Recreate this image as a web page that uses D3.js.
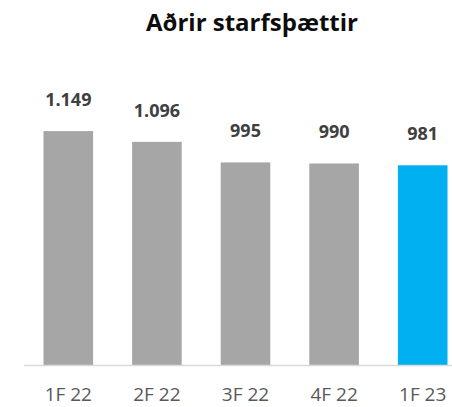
<!DOCTYPE html>
<meta charset="utf-8">
<style>
  body { margin: 0; background: #fff; }
  text { font-family: 'Open Sans', sans-serif; }
  .title { font-size: 24px; font-weight: bold; fill: #0d0d0d; }
  .value { font-size: 18px; font-weight: bold; fill: #404040; }
  .tick { font-size: 19px; fill: #595959; }
</style>
<body>
  <script src="https://d3js.org/d3.v7.min.js"></script>
  <script>
    // chart data
    var periods = ["1F 22", "2F 22", "3F 22", "4F 22", "1F 23"];
    var values = [1149, 1096, 995, 990, 981];
    var valueLabels = ["1.149", "1.096", "995", "990", "981"];
    var barColors = ["#A6A6A6", "#A6A6A6", "#A6A6A6", "#A6A6A6", "#00B0F0"];

    var width = 452, height = 407;

    var svg = d3.select("body").append("svg")
      .attr("width", width)
      .attr("height", height);

    var x = d3.scaleBand()
      .domain(periods)
      .range([24, 467])
      .paddingInner(0.44)
      .paddingOuter(0.22);

    var y = d3.scaleLinear()
      .domain([0, 1400])
      .range([365, 80]);

    // title
    svg.append("text")
      .attr("class", "title")
      .attr("x", 252)
      .attr("y", 31)
      .attr("text-anchor", "middle")
      .text("Aðrir starfsþættir");

    // bars
    svg.selectAll(".bar")
      .data(values)
      .enter().append("rect")
      .attr("class", "bar")
      .attr("x", function (d, i) { return x(periods[i]); })
      .attr("y", function (d) { return y(d); })
      .attr("width", x.bandwidth())
      .attr("height", function (d) { return y(0) - y(d); })
      .style("fill", function (d, i) { return barColors[i]; });

    // value labels
    svg.selectAll(".value")
      .data(values)
      .enter().append("text")
      .attr("class", "value")
      .attr("x", function (d, i) { return x(periods[i]) + x.bandwidth() / 2; })
      .attr("y", function (d) { return y(d) - 25; })
      .attr("text-anchor", "middle")
      .text(function (d, i) { return valueLabels[i]; });

    // baseline
    svg.append("line")
      .attr("x1", x.range()[0])
      .attr("x2", x.range()[1])
      .attr("y1", y(0) + 0.5)
      .attr("y2", y(0) + 0.5)
      .style("stroke", "#D9D9D9")
      .style("stroke-width", 1.5);

    // category labels
    svg.selectAll(".tick")
      .data(periods)
      .enter().append("text")
      .attr("class", "tick")
      .attr("x", function (d) { return x(d) + x.bandwidth() / 2; })
      .attr("y", 401)
      .attr("text-anchor", "middle")
      .text(function (d) { return d; });
  </script>
</body>
